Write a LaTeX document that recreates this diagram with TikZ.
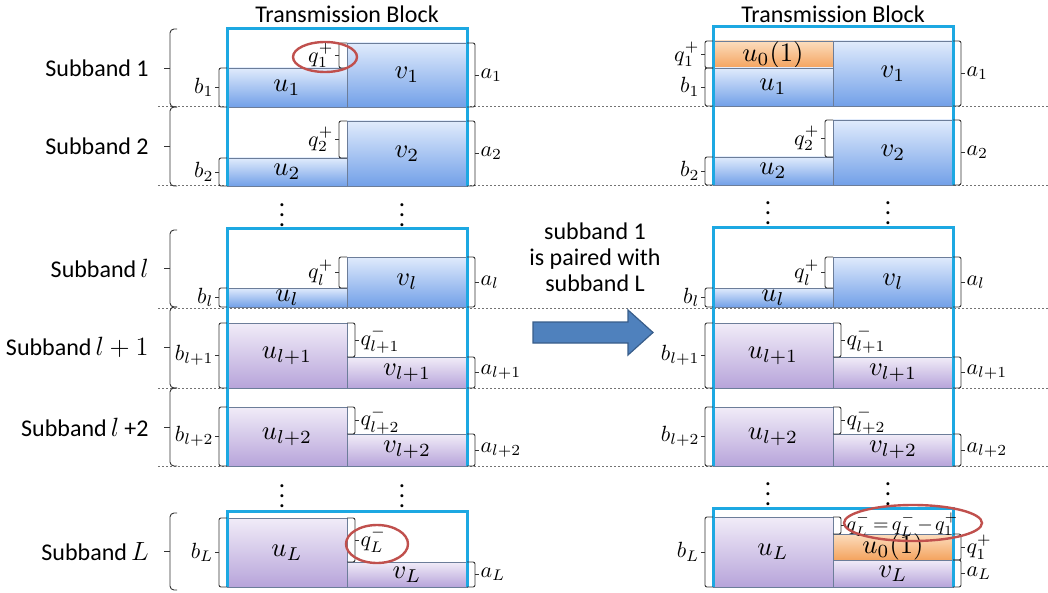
\documentclass[tikz,border=0pt]{standalone}
\usepackage{graphicx}
\usepackage[no-math]{fontspec}
\setmainfont{Carlito}
\usetikzlibrary{calc}

\definecolor{frameblue}{HTML}{1DA8E2}
\definecolor{bluetop}{HTML}{E0EBFC}
\definecolor{bluebot}{HTML}{72A0E8}
\definecolor{purtop}{HTML}{F1ECF8}
\definecolor{purbot}{HTML}{B7A4DA}
\definecolor{ortop}{HTML}{FCDDBE}
\definecolor{orbot}{HTML}{F4A35E}
\definecolor{barline}{HTML}{6C7D99}
\definecolor{ringred}{HTML}{C0504D}
\definecolor{arrfill}{HTML}{4F81BD}
\definecolor{arrline}{HTML}{385D8A}

% math set at 10pt and enlarged
\newcommand\barmath[1]{\scalebox{1.33}{$#1$}}
\newcommand\tagmath[1]{\scalebox{1.1}{$#1$}}
\newcommand\rowmath[1]{\scalebox{1.1}{$#1$}}
% shaded block with a centred math label
\newcommand\blk[7]{%
  \path[#6] (#2,#3) rectangle (#4,#5);
  \node[barlab] (#1) at ({(#2+#4)/2},{(#3+#5)/2}) {\barmath{#7}};}
% bracket opening to the right, label on its left
\newcommand\lbrk[5]{%
  \draw[brk] ({#2+8},#3) -- (#2,#3) -- (#2,#4) -- ({#2+8},#4);
  \draw[brk] (#2,{(#3+#4)/2}) -- ({#2-4},{(#3+#4)/2});
  \node[lab,anchor=east] (#1) at ({#2-4},{(#3+#4)/2}) {\tagmath{#5}};}
% bracket opening to the left, label on its right
\newcommand\rbrk[5]{%
  \draw[brk] ({#2-8},#3) -- (#2,#3) -- (#2,#4) -- ({#2-8},#4);
  \draw[brk] (#2,{(#3+#4)/2}) -- ({#2+4},{(#3+#4)/2});
  \node[lab,anchor=west] (#1) at ({#2+4},{(#3+#4)/2}) {\tagmath{#5}};}
% tall brace grouping one subband row
\newcommand\sbr[4]{%
  \draw[brk,rounded corners=2pt] (177,#2) -- (170,#2) -- (170,#3) -- (177,#3);
  \draw[brk] (170,{(#2+#3)/2}) -- (164,{(#2+#3)/2});
  \node[txt,anchor=east] (#1) at (149,{(#2+#3)/2}) {#4};}

\begin{document}
\begin{tikzpicture}[x=0.5pt,y=-0.5pt,
  txt/.style={inner sep=0pt,font=\fontsize{12}{13}\selectfont},
  barlab/.style={inner sep=0pt,font=\fontsize{10}{12}\selectfont},
  lab/.style={inner sep=0.6pt,font=\fontsize{10}{12}\selectfont},
  brk/.style={draw=black!80,line width=0.45pt,rounded corners=1pt},
  sep/.style={draw=black!55,line width=0.5pt,dash pattern=on 1.2pt off 0.8pt},
  frame/.style={draw=frameblue,line width=1.5pt},
  bluebar/.style={top color=bluetop,bottom color=bluebot,draw=barline,line width=0.4pt},
  purbar/.style={top color=purtop,bottom color=purbot,draw=barline,line width=0.4pt},
  orbar/.style={top color=ortop,bottom color=orbot,draw=barline,line width=0.4pt},
  ring/.style={draw=ringred,line width=1.2pt},
  dots/.style={inner sep=0pt,font=\fontsize{10}{12}\selectfont}]
\useasboundingbox (0,0) rectangle (1048,593);

% row separators
\foreach \y in {107,186,308,388,466} \draw[sep] (158,\y) -- (1048,\y);

% titles
\node[txt] (titleL) at (347,14) {Transmission Block};
\node[txt] (titleR) at (833,14) {Transmission Block};

% subband labels with their braces
\sbr{s1}{29}{107}{Subband 1}
\sbr{s2}{107}{186}{Subband 2}
\sbr{sl}{230}{307}{Subband\,\rowmath{l}}
\sbr{sl1}{307}{388}{Subband\,\rowmath{l+1}}
\sbr{sl2}{388}{466}{Subband\,\rowmath{l} +2}
\sbr{sL}{513}{590}{Subband\,\rowmath{L}}

% ---------- original allocation ----------
\blk{Lu1}{227}{68}{347}{107}{bluebar}{u_1}
\blk{Lv1}{347}{43}{467}{107}{bluebar}{v_1}
\blk{Lu2}{227}{158}{347}{186}{bluebar}{u_2}
\blk{Lv2}{347}{121}{467}{186}{bluebar}{v_2}
\blk{Lul}{227}{288}{347}{307}{bluebar}{u_l}
\blk{Lvl}{347}{257}{467}{307}{bluebar}{v_l}
\blk{Lul1}{227}{323}{347}{388}{purbar}{u_{l+1}}
\blk{Lvl1}{347}{357}{467}{388}{purbar}{v_{l+1}}
\blk{Lul2}{227}{407}{347}{466}{purbar}{u_{l+2}}
\blk{Lvl2}{347}{434}{467}{466}{purbar}{v_{l+2}}
\blk{LuL}{227}{518}{347}{587}{purbar}{u_L}
\blk{LvL}{347}{562}{467}{587}{purbar}{v_L}

\draw[frame] (227,186) |- (467,29) -- (467,186);
\draw[frame] (227,466) |- (467,229) -- (467,466);
\draw[frame] (227,587) |- (467,511) -- (467,587);

\lbrk{lb1}{219}{68}{107}{b_1}
\lbrk{lq1}{339}{43}{68}{q_1^+}
\rbrk{la1}{475}{43}{107}{a_1}
\lbrk{lb2}{219}{158}{186}{b_2}
\lbrk{lq2}{339}{121}{158}{q_2^+}
\rbrk{la2}{475}{121}{186}{a_2}
\lbrk{lbl}{219}{288}{307}{b_l}
\lbrk{lql}{339}{257}{288}{q_l^+}
\rbrk{lal}{475}{257}{307}{a_l}
\lbrk{lbl1}{219}{323}{388}{b_{l+1}}
\rbrk{lql1}{355}{323}{357}{q_{l+1}^-}
\rbrk{lal1}{475}{357}{388}{a_{l+1}}
\lbrk{lbl2}{219}{407}{466}{b_{l+2}}
\rbrk{lql2}{355}{407}{434}{q_{l+2}^-}
\rbrk{lal2}{475}{434}{466}{a_{l+2}}
\lbrk{lbL}{219}{518}{587}{b_L}
\rbrk{lqL}{355}{518}{562}{q_L^-}
\rbrk{laL}{475}{562}{587}{a_L}

\node[dots] (ld1) at (282,208) {\scalebox{1.25}{$\vdots$}};
\node[dots] (ld2) at (402,208) {\scalebox{1.25}{$\vdots$}};
\node[dots] (ld3) at (282,489) {\scalebox{1.25}{$\vdots$}};
\node[dots] (ld4) at (402,489) {\scalebox{1.25}{$\vdots$}};

% ---------- pairing step ----------
\node[txt,align=center] (pair) at (595,257) {subband 1\\is paired with\\subband L};
\filldraw[fill=arrfill,draw=arrline,line width=0.6pt]
  (533,322) -- (628,322) -- (628,310) -- (653,332.5) -- (628,355) -- (628,343) -- (533,343) -- cycle;

% ---------- paired allocation ----------
\blk{Ru0a}{713}{41}{833}{68}{orbar}{u_0(1)}
\blk{Ru1}{713}{68}{833}{106}{bluebar}{u_1}
\blk{Rv1}{833}{41}{953}{106}{bluebar}{v_1}
\blk{Ru2}{713}{157}{833}{185}{bluebar}{u_2}
\blk{Rv2}{833}{120}{953}{185}{bluebar}{v_2}
\blk{Rul}{713}{288}{833}{307}{bluebar}{u_l}
\blk{Rvl}{833}{257}{953}{307}{bluebar}{v_l}
\blk{Rul1}{713}{323}{833}{388}{purbar}{u_{l+1}}
\blk{Rvl1}{833}{357}{953}{388}{purbar}{v_{l+1}}
\blk{Rul2}{713}{407}{833}{466}{purbar}{u_{l+2}}
\blk{Rvl2}{833}{434}{953}{466}{purbar}{v_{l+2}}
\blk{RuL}{713}{517}{833}{587}{purbar}{u_L}
\blk{Ru0b}{833}{534}{953}{560}{orbar}{u_0(1)}
\blk{RvL}{833}{560}{953}{587}{purbar}{v_L}

\draw[frame] (713,185) |- (953,27) -- (953,185);
\draw[frame] (713,466) |- (953,228) -- (953,466);
\draw[frame] (713,587) |- (953,508) -- (953,587);

\lbrk{rq1}{705}{41}{68}{q_1^+}
\lbrk{rb1}{705}{68}{106}{b_1}
\rbrk{ra1}{961}{41}{106}{a_1}
\lbrk{rb2}{705}{157}{185}{b_2}
\lbrk{rq2}{825}{120}{157}{q_2^+}
\rbrk{ra2}{961}{120}{185}{a_2}
\lbrk{rbl}{705}{288}{307}{b_l}
\lbrk{rql}{825}{257}{288}{q_l^+}
\rbrk{ral}{961}{257}{307}{a_l}
\lbrk{rbl1}{705}{323}{388}{b_{l+1}}
\rbrk{rql1}{841}{323}{357}{q_{l+1}^-}
\rbrk{ral1}{961}{357}{388}{a_{l+1}}
\lbrk{rbl2}{705}{407}{466}{b_{l+2}}
\rbrk{rql2}{841}{407}{434}{q_{l+2}^-}
\rbrk{ral2}{961}{434}{466}{a_{l+2}}
\lbrk{rbL}{705}{517}{587}{b_L}
\draw[brk] (833,517) -- (841,517) -- (841,534) -- (833,534);
\draw[brk] (841,525.5) -- (845,525.5);
\node[lab,anchor=west,yshift=0.5pt] (rqL) at (845,525.5)
  {$\medmuskip=2mu\thickmuskip=3mu q_L^- = q_L^- - q_1^+$};
\rbrk{rq1L}{961}{534}{560}{q_1^+}
\rbrk{raL}{961}{560}{587}{a_L}

\node[dots] (rd1) at (768,206) {\scalebox{1.25}{$\vdots$}};
\node[dots] (rd2) at (888,206) {\scalebox{1.25}{$\vdots$}};
\node[dots] (rd3) at (768,487) {\scalebox{1.25}{$\vdots$}};
\node[dots] (rd4) at (888,487) {\scalebox{1.25}{$\vdots$}};

% highlighted quantities
\draw[ring] (325,57) ellipse [x radius=16pt, y radius=7.5pt];
\draw[ring] (377,544) ellipse [x radius=15.5pt, y radius=9.5pt];
\draw[ring] (913,523) ellipse [x radius=34.5pt, y radius=9pt];
\end{tikzpicture}
\end{document}
